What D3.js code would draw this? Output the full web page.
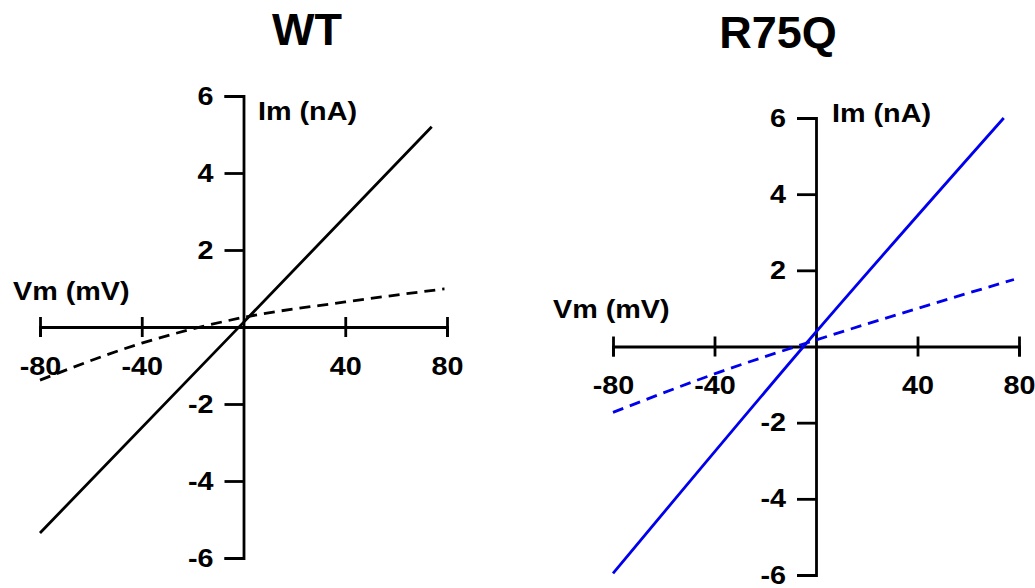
<!DOCTYPE html>
<head>
  <meta charset="utf-8">
  <script src="https://d3js.org/d3.v7.min.js"></script>
  <style>
    body { margin: 0; background: #fff; }
    text { font-family: "Liberation Sans", Arial, sans-serif; font-weight: bold; fill: #000; }
    .axis path, .axis line { stroke: #000; stroke-width: 2.8px; }
    .iv { fill: none; stroke-width: 2.8px; }
  </style>
</head>
<body>
  <script>
    // data
    var vmTicks = [-80, -40, 40, 80];
    var imTicks = [6, 4, 2, -2, -4, -6];

    var wtSolidVm = [-80, 0, 74],
        wtSolidIm = [-5.35, 0.12, 5.2];
    var wtDashVm = [-80, -40, 0, 40, 79],
        wtDashIm = [-1.38, -0.42, 0.25, 0.65, 0.99];

    var r75SolidVm = [-80, 0, 74],
        r75SolidIm = [-5.96, 0.38, 6.0];
    var r75DashVm = [-80, -40, 0, 40, 78],
        r75DashIm = [-1.73, -0.72, 0.17, 1.0, 1.76];

    var stretch = 1.15;
    var fs = "25px";

    var svg = d3.select("body").append("svg")
        .attr("width", 1035)
        .attr("height", 588);

    var panels = [
      { title: "WT", color: "#000", tx: 307, ty: 45,
        xr: [40, 447], yr: [558, 96],
        solid: [wtSolidVm, wtSolidIm], dash: [wtDashVm, wtDashIm],
        im: [258, 120], vm: [13, 300] },
      { title: "R75Q", color: "#0000ee", tx: 778, ty: 48,
        xr: [613, 1019], yr: [575, 118],
        solid: [r75SolidVm, r75SolidIm], dash: [r75DashVm, r75DashIm],
        im: [832, 122], vm: [553, 318] }
    ];

    panels.forEach(function(p) {
      var x = d3.scaleLinear().domain([-80, 80]).range(p.xr);
      var y = d3.scaleLinear().domain([-6, 6]).range(p.yr);

      svg.append("text")
        .attr("x", p.tx)
        .attr("y", p.ty)
        .attr("text-anchor", "middle")
        .style("font-size", "45px")
        .text(p.title);

      // x axis, ticks cross the line
      var gx = svg.append("g")
        .attr("class", "axis")
        .attr("transform", "translate(0," + y(0) + ")")
        .call(d3.axisBottom(x).tickValues(vmTicks).tickFormat(String)
          .tickSizeOuter(0).tickSize(10).tickPadding(20));
      gx.selectAll(".tick line").attr("y1", -10).attr("y2", 10);

      // y axis
      var gy = svg.append("g")
        .attr("class", "axis")
        .attr("transform", "translate(" + x(0) + ",0)")
        .call(d3.axisLeft(y).tickValues(imTicks).tickFormat(String)
          .tickSizeOuter(0).tickSize(19).tickPadding(11));

      gx.selectAll(".tick text")
        .style("font-size", fs)
        .attr("transform", "scale(" + stretch + ",1)");
      gy.selectAll(".tick text")
        .style("font-size", fs)
        .attr("x", -30 / stretch)
        .attr("transform", "scale(" + stretch + ",1)");

      svg.append("text")
        .attr("transform", "translate(" + p.im[0] + "," + p.im[1] + ") scale(" + stretch + ",1)")
        .style("font-size", fs)
        .text("Im (nA)");

      svg.append("text")
        .attr("transform", "translate(" + p.vm[0] + "," + p.vm[1] + ") scale(" + stretch + ",1)")
        .style("font-size", fs)
        .text("Vm (mV)");

      var line = d3.line()
        .x(function(d) { return x(d[0]); })
        .y(function(d) { return y(d[1]); })
        .curve(d3.curveMonotoneX);

      svg.append("path")
        .datum(d3.zip(p.solid[0], p.solid[1]))
        .attr("class", "iv")
        .attr("stroke", p.color)
        .attr("d", line);

      svg.append("path")
        .datum(d3.zip(p.dash[0], p.dash[1]))
        .attr("class", "iv")
        .attr("stroke", p.color)
        .attr("stroke-dasharray", "11,7")
        .attr("d", line);
    });
  </script>
</body>
